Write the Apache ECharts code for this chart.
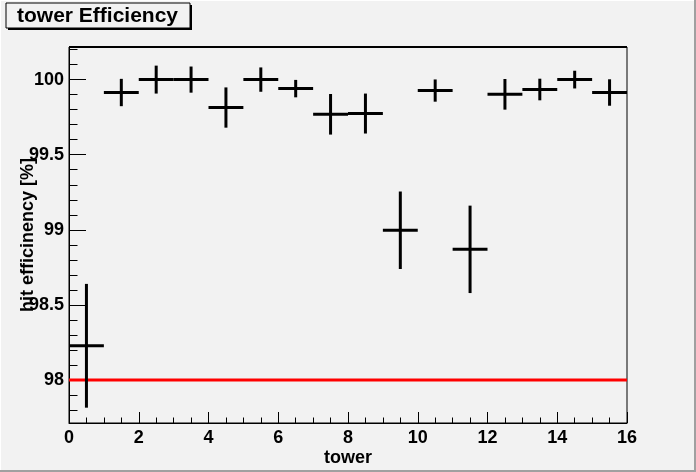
<!DOCTYPE html>
<html>
<head>
<meta charset="utf-8">
<script src="https://cdn.jsdelivr.net/npm/echarts@6/dist/echarts.min.js"></script>
<style>
html,body{margin:0;padding:0;background:#f2f2f2;}
#chart{width:696px;height:472px;}
</style>
</head>
<body>
<div id="chart"></div>
<script>
// ---- data ----
var towerCenters = [0.5,1.5,2.5,3.5,4.5,5.5,6.5,7.5,8.5,9.5,10.5,11.5,12.5,13.5,14.5,15.5];
var efficiency   = [98.228,99.914,100.0,100.0,99.814,100.0,99.940,99.769,99.774,98.997,99.927,98.870,99.902,99.934,100.0,99.914];
var errors       = [0.412,0.091,0.093,0.087,0.134,0.081,0.058,0.135,0.133,0.258,0.074,0.291,0.102,0.072,0.059,0.088];
var binHalfWidth = 0.5;
var thresholdX = [0,16];
var thresholdY = [98,98];
var yMajorTicks = [98,98.5,99,99.5,100];
var yMinorTicks = [97.8,97.9,98.0,98.1,98.2,98.3,98.4,98.5,98.6,98.7,98.8,98.9,99.0,99.1,99.2,99.3,99.4,99.5,99.6,99.7,99.8,99.9,100.0,100.1,100.2];
var titleText = 'tower Efficiency';
var xTitle = 'tower';
var yTitle = 'hit efficinency [%]';

var pts = towerCenters.map(function(x,i){ return [x, efficiency[i], errors[i]]; });
var thresh = thresholdX.map(function(x,i){ return [x, thresholdY[i]]; });

var FONT = 'Liberation Sans';
var chart = echarts.init(document.getElementById('chart'));
chart.setOption({
  animation:false,
  backgroundColor:'#f2f2f2',
  grid:{left:69,top:47,width:558,height:376,show:true,borderColor:'#000',borderWidth:1,backgroundColor:'#f2f2f2',containLabel:false,outerBoundsMode:'none'},
  xAxis:{
    type:'value',min:0,max:16,interval:2,
    name:xTitle,nameLocation:'middle',nameGap:26,nameMoveOverlap:false,
    nameTextStyle:{fontFamily:FONT,fontWeight:'bold',fontSize:18,color:'#000'},
    axisLine:{show:true,onZero:false,lineStyle:{color:'#000',width:1}},
    axisTick:{show:true,inside:true,length:11,lineStyle:{color:'#000',width:1}},
    minorTick:{show:true,splitNumber:4,length:5.5,lineStyle:{color:'#000',width:1}},
    axisLabel:{fontFamily:FONT,fontWeight:'bold',fontSize:18,color:'#000',margin:6},
    splitLine:{show:false}
  },
  yAxis:[{
    type:'value',min:97.714,max:100.217,
    name:yTitle,nameLocation:'middle',nameGap:32,nameMoveOverlap:false,
    nameTextStyle:{fontFamily:FONT,fontWeight:'bold',fontSize:18,color:'#000'},
    axisLine:{show:true,onZero:false,lineStyle:{color:'#000',width:1}},
    axisTick:{show:true,inside:true,length:17,customValues:yMajorTicks,lineStyle:{color:'#000',width:1}},
    axisLabel:{fontFamily:FONT,fontWeight:'bold',fontSize:18,color:'#000',margin:5,customValues:yMajorTicks},
    splitLine:{show:false}
  },{
    type:'value',min:97.714,max:100.217,position:'left',
    axisLine:{show:false},
    axisTick:{show:true,inside:true,length:8.5,customValues:yMinorTicks,lineStyle:{color:'#000',width:1}},
    axisLabel:{show:false},
    splitLine:{show:false}
  }],
  graphic:[
    {type:'rect',shape:{x:0,y:0,width:696,height:1},style:{fill:'#ffffff'},silent:true},
    {type:'rect',shape:{x:0,y:0,width:1,height:472},style:{fill:'#ffffff'},silent:true},
    {type:'rect',shape:{x:694,y:0,width:2,height:472},style:{fill:'#a0a0a0'},silent:true},
    {type:'rect',shape:{x:0,y:470,width:696,height:2},style:{fill:'#a0a0a0'},silent:true},
    {type:'rect',shape:{x:69,y:46,width:558,height:2},style:{fill:'#000'},silent:true},
    {type:'rect',shape:{x:8,y:5,width:184,height:25},style:{fill:'#000'},silent:true},
    {type:'rect',shape:{x:6,y:3,width:184,height:25},style:{fill:'#f2f2f2',stroke:'#000',lineWidth:1},silent:true},
    {type:'text',x:17,y:16,style:{text:titleText,fontFamily:FONT,fontWeight:'bold',fontSize:21,fill:'#000',textVerticalAlign:'middle',textAlign:'left'},silent:true}
  ],
  series:[{
    type:'line',data:thresh,xAxisIndex:0,yAxisIndex:0,
    symbol:'none',lineStyle:{color:'#ff0000',width:3},z:2
  },{
    type:'custom',xAxisIndex:0,yAxisIndex:0,data:pts,z:3,
    renderItem:function(params,api){
      var x=api.value(0), y=api.value(1), e=api.value(2);
      var l=api.coord([x-binHalfWidth,y]), r=api.coord([x+binHalfWidth,y]);
      var t=api.coord([x,y+e]), b=api.coord([x,y-e]);
      return {type:'group',children:[
        {type:'line',shape:{x1:l[0],y1:l[1],x2:r[0],y2:r[1]},style:{stroke:'#000',lineWidth:3}},
        {type:'line',shape:{x1:t[0],y1:t[1],x2:b[0],y2:b[1]},style:{stroke:'#000',lineWidth:3}}
      ]};
    }
  }]
});
</script>
</body>
</html>
